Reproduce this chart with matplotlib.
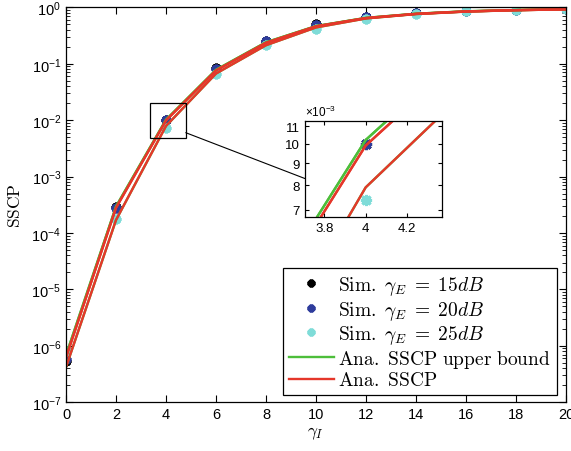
import matplotlib
matplotlib.use("Agg")
import matplotlib.pyplot as plt
from matplotlib.font_manager import FontProperties
from matplotlib.patches import Rectangle, ConnectionPatch
from matplotlib.ticker import FixedLocator, FuncFormatter, NullLocator, LogLocator

# --- datos ---
gamma_I = [0, 2, 4, 6, 8, 10, 12, 14, 16, 18, 20]

sim_15 = [5.5e-7, 2.85e-4, 1.0e-2, 8.3e-2, 0.256, 0.50, 0.67, 0.78, 0.86, 0.90, 0.93]
sim_20 = [5.8e-7, 2.75e-4, 1.0e-2, 8.1e-2, 0.25, 0.49, 0.665, 0.78, 0.86, 0.90, 0.93]
sim_25 = [8.2e-7, 1.8e-4, 7.4e-3, 6.6e-2, 0.215, 0.42, 0.63, 0.77, 0.86, 0.90, 0.93]

cota_15 = [6.8e-7, 2.95e-4, 1.02e-2, 7.8e-2, 0.24, 0.465, 0.65, 0.77, 0.85, 0.895, 0.925]
cota_20 = [6.8e-7, 2.95e-4, 1.02e-2, 7.8e-2, 0.24, 0.465, 0.65, 0.77, 0.85, 0.895, 0.925]
cota_25 = [4.2e-7, 1.7e-4, 7.9e-3, 6.7e-2, 0.213, 0.44, 0.635, 0.76, 0.84, 0.89, 0.92]

ana_15 = [6.2e-7, 2.8e-4, 9.9e-3, 7.6e-2, 0.235, 0.46, 0.645, 0.765, 0.845, 0.89, 0.92]
ana_20 = [6.2e-7, 2.8e-4, 9.9e-3, 7.6e-2, 0.235, 0.46, 0.645, 0.765, 0.845, 0.89, 0.92]
ana_25 = [4.2e-7, 1.7e-4, 7.9e-3, 6.7e-2, 0.213, 0.44, 0.635, 0.76, 0.84, 0.89, 0.92]

etiquetas_sim = [r"$\mathrm{Sim.}\ \gamma_E\;=\;15dB$",
                 r"$\mathrm{Sim.}\ \gamma_E\;=\;20dB$",
                 r"$\mathrm{Sim.}\ \gamma_E\;=\;25dB$"]
etiqueta_cota = r"$\mathrm{Ana.\ SSCP\ upper\ bound}$"
etiqueta_ana = r"$\mathrm{Ana.\ SSCP}$"

colores_sim = ["#000000", "#2E3C9C", "#7FDCD8"]
verde = "#4DBE3A"
rojo = "#E5372A"

plt.rcParams["font.family"] = ["Liberation Sans", "DejaVu Sans"]
plt.rcParams["mathtext.fontset"] = "custom"
plt.rcParams["mathtext.rm"] = "Liberation Sans"
plt.rcParams["mathtext.it"] = "Liberation Sans:italic"
plt.rcParams["mathtext.bf"] = "Liberation Sans:bold"

cm_font = FontProperties(family="serif", size=14, math_fontfamily="cm")

fig = plt.figure(figsize=(5.71, 4.52), dpi=100)
ax = fig.add_axes([0.1156, 0.1077, 0.8757, 0.8739])


def dibujar(eje, ms=7):
    marca = (8, 2, 0)
    for serie, col, lab in zip([sim_15, sim_20, sim_25], colores_sim, etiquetas_sim):
        eje.plot(gamma_I, serie, linestyle="none", marker=marca, markersize=ms,
                 markeredgewidth=2.2, color=col, label=lab)
    h1 = None
    for serie in [cota_15, cota_20, cota_25]:
        h1, = eje.plot(gamma_I, serie, color=verde, lw=1.7)
    h2 = None
    for serie in [ana_15, ana_20, ana_25]:
        h2, = eje.plot(gamma_I, serie, color=rojo, lw=1.7)
    return h1, h2


h_cota, h_ana = dibujar(ax)
h_cota.set_label(etiqueta_cota)
h_ana.set_label(etiqueta_ana)

ax.set_yscale("log")
ax.set_xlim(0, 20)
ax.set_ylim(1e-7, 1)
ax.set_xticks(range(0, 21, 2))
ax.yaxis.set_major_locator(LogLocator(base=10, numticks=10))
ax.tick_params(which="both", direction="in", top=True, right=True, labelsize=10.5)
ax.tick_params(which="major", length=5)
ax.tick_params(which="minor", length=3)
for s in ax.spines.values():
    s.set_linewidth(0.9)

ax.set_ylabel(r"$\mathrm{SSCP}$", fontproperties=FontProperties(size=12.5, math_fontfamily="cm"),
              labelpad=6)
ax.set_xlabel(r"$\gamma_I$", fontproperties=FontProperties(size=12.5, math_fontfamily="cm"),
              labelpad=2)

handles, labels = ax.get_legend_handles_labels()
leg = ax.legend(handles, labels, loc="lower right", bbox_to_anchor=(0.982, 0.018),
                prop=cm_font, fancybox=False, framealpha=1, edgecolor="black",
                handlelength=2.3, handletextpad=0.25, labelspacing=0.08,
                borderpad=0.3, borderaxespad=0, markerscale=0.8)
leg.get_frame().set_linewidth(0.9)

# --- recuadro de zoom ---
ax.add_patch(Rectangle((3.36, 0.0049), 1.43, 0.0151, fill=False, ec="black", lw=0.9, zorder=5))

axin = fig.add_axes([0.534, 0.518, 0.240, 0.212])
dibujar(axin, ms=8)
axin.set_yscale("log")
axin.set_xlim(3.707, 4.368)
axin.set_ylim(6.74e-3, 11.3e-3)
axin.set_xticks([3.8, 4.0, 4.2])
axin.xaxis.set_major_formatter(FuncFormatter(lambda v, p: "%g" % round(v, 1)))
axin.yaxis.set_major_locator(FixedLocator([7e-3, 8e-3, 9e-3, 10e-3, 11e-3]))
axin.yaxis.set_minor_locator(NullLocator())
axin.yaxis.set_major_formatter(FuncFormatter(lambda v, p: "%d" % round(v * 1e3)))
axin.tick_params(which="both", direction="in", top=True, right=True, labelsize=9.5, length=3)
for s in axin.spines.values():
    s.set_linewidth(0.9)
axin.text(0.0, 1.02, r"$\times10^{-3}$", transform=axin.transAxes, fontsize=8.5,
          ha="left", va="bottom")

con = ConnectionPatch(xyA=(4.79, 0.006), coordsA=ax.transData,
                      xyB=(0.0, 0.40), coordsB=axin.transAxes, color="black", lw=0.8)
fig.add_artist(con)

fig.savefig("out.png", dpi=100)
